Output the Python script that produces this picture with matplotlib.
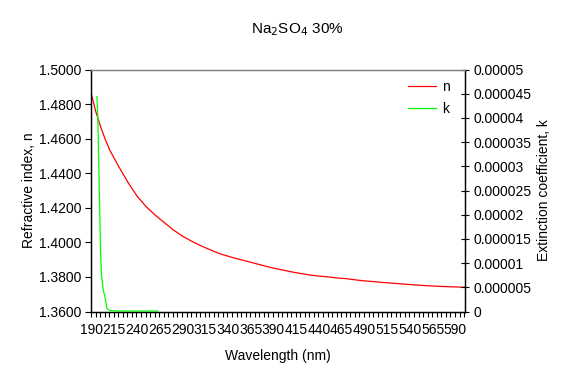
import numpy as np
import matplotlib
matplotlib.use("Agg")
import matplotlib.pyplot as plt
from matplotlib.ticker import FixedLocator, FuncFormatter

plt.rcParams['font.family'] = ['Liberation Sans', 'DejaVu Sans']

# === DATA ===
wl_n = [190, 195, 200, 205, 210, 220, 230, 240, 250, 260, 270, 280, 290, 300,
        310, 320, 330, 340, 350, 360, 370, 380, 390, 400, 410, 420, 430, 440,
        450, 460, 470, 480, 490, 500, 510, 520, 530, 540, 550, 560, 570, 580,
        590, 600]
n_vals = [1.4855, 1.4752, 1.4670, 1.4598, 1.4535, 1.4438, 1.4348, 1.4268,
          1.4207, 1.4158, 1.4114, 1.4072, 1.4036, 1.4007, 1.3981, 1.3958,
          1.3936, 1.3920, 1.3905, 1.3892, 1.3878, 1.3864, 1.3851, 1.3840,
          1.3829, 1.3820, 1.3811, 1.3805, 1.3800, 1.3794, 1.3790, 1.3783,
          1.3777, 1.3773, 1.3768, 1.3764, 1.3760, 1.3756, 1.3752, 1.3749,
          1.3746, 1.3744, 1.3742, 1.3740]

wl_k = [196, 197, 198, 199, 200, 201, 203, 205, 207, 210, 220, 230, 240, 250, 263]
k_vals = [4.44e-5, 4.0e-5, 3.07e-5, 2.17e-5, 1.25e-5, 0.75e-5, 0.44e-5, 0.29e-5,
          0.06e-5, 0.02e-5, 0.01e-5, 0.01e-5, 0.01e-5, 0.01e-5, 0.01e-5]

x_labels = list(range(190, 591, 25))
n_ticks = [1.36, 1.38, 1.40, 1.42, 1.44, 1.46, 1.48, 1.50]
k_ticks = [0, 0.000005, 0.00001, 0.000015, 0.00002, 0.000025, 0.00003,
           0.000035, 0.00004, 0.000045, 0.00005]
k_tick_labels = ["0", "0.000005", "0.00001", "0.000015", "0.00002", "0.000025",
                 "0.00003", "0.000035", "0.00004", "0.000045", "0.00005"]

# === FIGURE ===
fig = plt.figure(figsize=(5.81, 3.82), dpi=100)
ax = fig.add_axes([91 / 581, 1 - 311.5 / 382, (465 - 91) / 581, (311.5 - 69.5) / 382])
ax2 = ax.twinx()

ln_n, = ax.plot(wl_n, n_vals, color='#FF0000', lw=0.9, label='n')
ln_k, = ax2.plot(wl_k, k_vals, color='#00FF00', lw=0.9, label='k')

ax.set_xlim(189.5, 600.5)
ax.set_ylim(1.36, 1.50)
ax2.set_ylim(0, 0.00005)

# x axis: labels at category centres, tick marks every 5 categories
ax.xaxis.set_major_locator(FixedLocator(x_labels))
ax.xaxis.set_minor_locator(FixedLocator(np.arange(189.5, 601, 5)))
ax.tick_params(axis='x', which='major', length=0, labelsize=10, pad=8)
ax.tick_params(axis='x', which='minor', direction='out', length=3.5, width=0.8)

ax.set_yticks(n_ticks)
ax.yaxis.set_major_formatter(FuncFormatter(lambda v, p: f"{v:.4f}"))
ax.tick_params(axis='y', direction='out', length=4, width=0.8, labelsize=10, pad=3)

ax2.set_yticks(k_ticks)
ax2.set_yticklabels(k_tick_labels)
ax2.tick_params(axis='y', direction='inout', length=6, width=0.8, labelsize=10, pad=3)

for a in (ax, ax2):
    a.spines['top'].set_color('#808080')
    a.spines['left'].set_color('black')
    a.spines['right'].set_color('black')
    a.spines['bottom'].set_color('black')
    for s in a.spines.values():
        s.set_linewidth(0.9)

ax.set_ylabel("Refractive index, n", fontsize=10, labelpad=2)
ax2.set_ylabel("Extinction coefficient, k", fontsize=10, labelpad=4)
ax.set_xlabel("Wavelength (nm)", fontsize=10, labelpad=9)

fig.text(297 / 581, 1 - 30 / 382, "Na$_2$SO$_4$ 30%", ha='center', va='center',
         fontsize=11)

ax.legend(handles=[ln_n, ln_k], loc='upper right', frameon=False,
          bbox_to_anchor=(455 / 581, 1 - 74 / 382), bbox_transform=fig.transFigure,
          fontsize=10, handlelength=2.0, handletextpad=0.4, labelspacing=0.6,
          borderaxespad=0)

fig.savefig("out.png", dpi=100)
